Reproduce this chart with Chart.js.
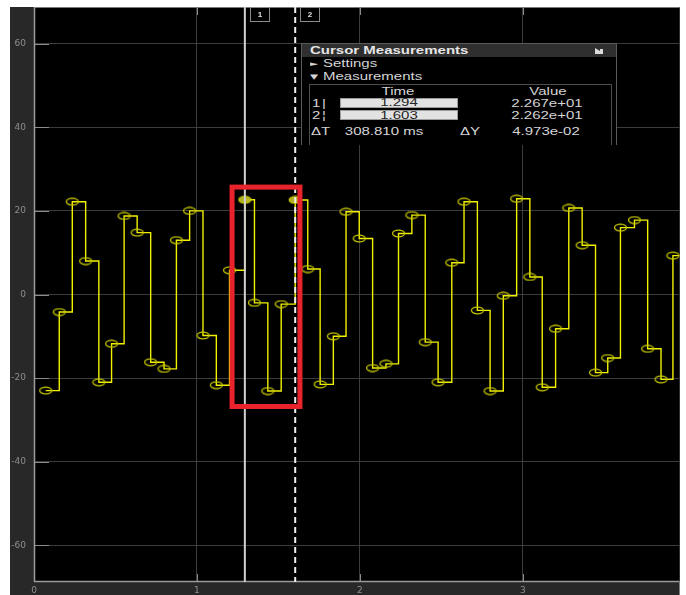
<!DOCTYPE html>
<html>
<head>
<meta charset="utf-8">
<title>Scope</title>
<script src="https://cdn.jsdelivr.net/npm/chart.js@4.4.1/dist/chart.umd.min.js"></script>
<style>
  html, body { margin: 0; padding: 0; background: #fff; }
  #wrap { position: relative; width: 686px; height: 595px; overflow: hidden; }
  #scope { display: block; }
  .panel {
    position: absolute; left: 301px; top: 43px; width: 316px; height: 102px;
    background: #000; border: 1px solid #5a5a5a; border-bottom: none; box-sizing: border-box;
    font-family: "Liberation Sans", Arial, sans-serif; font-size: 10px; color: #d4d4d4;
    overflow: hidden;
  }
  .bar { position: absolute; left: 0; top: 0; width: 100%; height: 13px; background: #2f2f2f; }
  .l, .c { position: absolute; white-space: nowrap; line-height: 12px; }
  .l { transform: scaleX(1.5); transform-origin: 0 50%; }
  .c { width: 120px; text-align: center; transform: scaleX(1.5); transform-origin: 50% 50%; }
  .b { font-weight: bold; color: #e6e6e6; }
  .box { position: absolute; left: 7px; top: 40px; width: 303px; height: 70px;
         border: 1px solid #4e4e4e; border-bottom: none; box-sizing: border-box; }
  .field { position: absolute; left: 38px; width: 118px; height: 10px;
           background: #e2e2e2; border: 1px solid #9c9c9c; box-sizing: border-box; }
  .tri { font-family: "DejaVu Sans", sans-serif; font-size: 7px; }
</style>
</head>
<body>
<div id="wrap">
  <canvas id="scope" width="686" height="595"></canvas>
  <div class="panel" id="panel">
    <div class="bar"></div>
    <div class="l b" style="left:8px; top:0.5px;">Cursor Measurements</div>
    <svg style="position:absolute; left:293px; top:4px;" width="9" height="6" viewBox="0 0 9 6">
      <path d="M0 0 L5 3 L5 1 L8 1 L8 6 L0 6 Z" fill="#dcdcdc"/>
    </svg>
    <div class="l tri" style="left:8px; top:13.5px;">&#9658;</div>
    <div class="l" style="left:21px; top:13.5px;">Settings</div>
    <div class="l tri" style="left:8px; top:27px;">&#9660;</div>
    <div class="l" style="left:21px; top:27px;">Measurements</div>
    <div class="box"></div>
    <div class="c" style="left:36px; top:41.5px;">Time</div>
    <div class="c" style="left:186px; top:41.5px;">Value</div>
    <div id="rows"></div>
  </div>
</div>
<script>
// Sampled signal (held between samples, zero-order hold)
const sampleTimes = [
  0.072, 0.155, 0.235, 0.317, 0.398, 0.476, 0.553, 0.633, 0.716, 0.798,
  0.874, 0.955, 1.037, 1.119, 1.200, 1.294, 1.353, 1.435, 1.517, 1.603,
  1.680, 1.756, 1.837, 1.915, 1.996, 2.078, 2.160, 2.237, 2.319, 2.401,
  2.480, 2.564, 2.639, 2.721, 2.799, 2.880, 2.962, 3.043, 3.119, 3.201,
  3.282, 3.364, 3.446, 3.521, 3.599, 3.685, 3.766, 3.848, 3.921
];
const sampleValues = [
  -23.0, -4.2, 22.2, 8.0, -21.0, -11.8, 18.8, 14.8, -16.2, -17.8,
  13.0, 20.0, -9.8, -21.7, 5.8, 22.67, -2.0, -23.1, -2.3, 22.62,
  6.1, -21.5, -10.0, 19.8, 13.4, -17.6, -16.6, 14.6, 19.0, -11.4,
  -21.0, 7.6, 22.2, -3.8, -23.1, -0.3, 22.9, 4.2, -22.2, -8.2,
  20.7, 11.8, -18.7, -15.2, 16.0, 17.8, -13.0, -20.3, 9.3
];
const stopTime = 3.962;

// Axes
const timeRange = [0, 3.962];
const valueRange = [-68.8, 68.8];
const timeTicks = [0, 1, 2, 3];
const valueTicks = [-60, -40, -20, 0, 20, 40, 60];

// Cursors and their readouts
const cursorTimes = [1.294, 1.603];
const cursorValues = [22.67, 22.62];
const cursorDeltaMs = 308.810;
const cursorDeltaValue = 4.973e-2;

// Highlighted window (time span, value span)
const highlightTimes = [1.2155, 1.632];
const highlightValues = [-26.8, 25.7];

function sci(v) {
  return v.toExponential(3).replace(/e([+-])(\d)$/, 'e$10$2');
}

// Readout rows of the measurements panel
(function buildRows() {
  const rows = document.getElementById('rows');
  const marks = ['|', '\u00A6'];
  const rowTops = [53.5, 65.5];
  const fieldTops = [53.5, 66];
  let html = '';
  cursorTimes.forEach((t, i) => {
    html += '<div class="l" style="left:9.5px; top:' + rowTops[i] + 'px;">' + (i + 1) + '</div>';
    html += '<div class="l" style="left:20px; top:' + rowTops[i] + 'px;">' + marks[i] + '</div>';
    html += '<div class="field" style="top:' + fieldTops[i] + 'px;"></div>';
    html += '<div class="c" style="left:37px; top:' + (fieldTops[i] - 0.5) + 'px;"><span style="color:#262626">' + t.toFixed(3) + '</span></div>';
    html += '<div class="c" style="left:184.5px; top:' + rowTops[i] + 'px;">' + sci(cursorValues[i]) + '</div>';
  });
  html += '<div class="l" style="left:9px; top:81.5px;">\u0394T</div>';
  html += '<div class="c" style="left:22px; top:81.5px;">' + cursorDeltaMs.toFixed(3) + ' ms</div>';
  html += '<div class="l" style="left:158px; top:81.5px;">\u0394Y</div>';
  html += '<div class="c" style="left:184px; top:81.5px;">' + sci(cursorDeltaValue) + '</div>';
  rows.innerHTML = html;
})();

function ellipseMarker(fill) {
  const c = document.createElement('canvas');
  c.width = 15; c.height = 9;
  const g = c.getContext('2d');
  g.beginPath();
  g.ellipse(7.5, 4.5, 6, 3.3, 0, 0, Math.PI * 2);
  if (fill) { g.fillStyle = fill; g.fill(); }
  g.strokeStyle = '#c8c800';
  g.lineWidth = 1.3;
  g.stroke();
  return c;
}
const hollowMarker = ellipseMarker(null);
const cursorMarker = ellipseMarker('rgba(185,185,40,0.95)');

const points = sampleTimes.map((t, i) => ({ x: t, y: sampleValues[i] }));
points.push({ x: stopTime, y: sampleValues[sampleValues.length - 1] });
const holdIndex = points.length - 1;
const cursorIndices = cursorTimes.map(t => sampleTimes.indexOf(t));

function noEdgePadding(s) {
  s.paddingTop = 0; s.paddingBottom = 0; s.paddingLeft = 0; s.paddingRight = 0;
}

const scopeFrame = {
  id: 'scopeFrame',
  beforeDraw(chart) {
    const { ctx, chartArea: a, width, height } = chart;
    const pad = chart.options.layout.padding;
    ctx.save();
    ctx.fillStyle = '#ffffff';
    ctx.fillRect(0, 0, width, height);
    ctx.fillStyle = '#282828';
    ctx.fillRect(pad.left, pad.top, a.right - pad.left, height - pad.top);
    ctx.fillStyle = '#000000';
    ctx.fillRect(a.left, a.top, a.right - a.left, a.bottom - a.top);
    ctx.restore();
  },
  beforeDatasetsDraw(chart) {
    const { ctx, chartArea: a, scales: { x, y } } = chart;
    ctx.save();
    ctx.strokeStyle = '#8c8c8c';
    ctx.lineWidth = 1;
    valueTicks.forEach(v => {
      const py = Math.round(y.getPixelForValue(v)) + 0.5;
      ctx.beginPath(); ctx.moveTo(a.left, py); ctx.lineTo(a.left + 15, py); ctx.stroke();
    });
    timeTicks.forEach(v => {
      const px = Math.round(x.getPixelForValue(v)) + 0.5;
      ctx.beginPath(); ctx.moveTo(px, a.bottom); ctx.lineTo(px, a.bottom - 8); ctx.stroke();
      ctx.beginPath(); ctx.moveTo(px, a.top); ctx.lineTo(px, a.top + 8); ctx.stroke();
    });
    ctx.strokeStyle = '#7a7a7a';
    ctx.beginPath(); ctx.moveTo(a.left, a.top + 0.5); ctx.lineTo(a.right, a.top + 0.5); ctx.stroke();
    ctx.strokeStyle = '#9c9c9c';
    ctx.lineWidth = 1.5;
    ctx.beginPath(); ctx.moveTo(a.left, a.bottom - 0.5); ctx.lineTo(a.right, a.bottom - 0.5); ctx.stroke();
    ctx.beginPath(); ctx.moveTo(a.left + 0.5, a.top); ctx.lineTo(a.left + 0.5, a.bottom); ctx.stroke();
    ctx.restore();
  },
  afterDatasetsDraw(chart) {
    const { ctx, chartArea: a, scales: { x, y } } = chart;
    ctx.save();
    // cursors
    cursorTimes.forEach((t, i) => {
      const px = x.getPixelForValue(t);
      ctx.beginPath();
      ctx.lineWidth = 2;
      if (i === 0) { ctx.strokeStyle = '#d0d0d0'; ctx.setLineDash([]); }
      else { ctx.strokeStyle = '#eeeeee'; ctx.setLineDash([6, 4]); }
      ctx.moveTo(px, a.top); ctx.lineTo(px, a.bottom); ctx.stroke();
      ctx.setLineDash([]);
      const bx = Math.round(px) + 5.5, by = a.top + 0.5;
      ctx.fillStyle = '#000';
      ctx.fillRect(bx, by, 19, 14);
      ctx.strokeStyle = '#8a8a8a'; ctx.lineWidth = 1;
      ctx.strokeRect(bx, by, 19, 14);
      ctx.fillStyle = '#e0e0e0';
      ctx.font = 'bold 8px "Liberation Sans", Arial, sans-serif';
      ctx.textAlign = 'center'; ctx.textBaseline = 'middle';
      ctx.fillText(String(i + 1), bx + 9.5, by + 7.5);
    });
    // highlighted window
    const x0 = x.getPixelForValue(highlightTimes[0]);
    const x1 = x.getPixelForValue(highlightTimes[1]);
    const y0 = y.getPixelForValue(highlightValues[1]);
    const y1 = y.getPixelForValue(highlightValues[0]);
    ctx.strokeStyle = '#e8232b';
    ctx.lineWidth = 5;
    ctx.strokeRect(x0, y0, x1 - x0, y1 - y0);
    ctx.restore();
  },
  afterDraw(chart) {
    const { ctx, height } = chart;
    const pad = chart.options.layout.padding;
    ctx.save();
    ctx.fillStyle = '#ffffff';
    ctx.fillRect(0, 0, pad.left, height);
    ctx.restore();
  }
};

const tickFont = { family: '"DejaVu Sans", sans-serif', size: 9 };

new Chart(document.getElementById('scope'), {
  type: 'line',
  data: {
    datasets: [{
      data: points,
      stepped: true,
      borderColor: '#f2f200',
      borderWidth: 1.4,
      fill: false,
      pointStyle: ctx => cursorIndices.includes(ctx.dataIndex) ? cursorMarker : hollowMarker,
      pointRadius: ctx => ctx.dataIndex === holdIndex ? 0 : 5,
      pointHoverRadius: 0
    }]
  },
  options: {
    responsive: false,
    devicePixelRatio: 1,
    animation: false,
    events: [],
    layout: { padding: { left: 10, top: 7, right: 5, bottom: 0 } },
    plugins: { legend: { display: false }, tooltip: { enabled: false } },
    scales: {
      x: {
        type: 'linear',
        min: timeRange[0], max: timeRange[1],
        afterFit: s => { s.height = 13; noEdgePadding(s); },
        afterBuildTicks: s => { s.ticks = timeTicks.map(v => ({ value: v })); },
        grid: { color: '#3c3c3c', lineWidth: 1, drawTicks: false },
        border: { display: false },
        ticks: { color: '#8e8e8e', font: tickFont, padding: 3, maxRotation: 0, autoSkip: false,
                 callback: v => String(v) }
      },
      y: {
        type: 'linear',
        min: valueRange[0], max: valueRange[1],
        afterFit: s => { s.width = 24; noEdgePadding(s); },
        afterBuildTicks: s => { s.ticks = valueTicks.map(v => ({ value: v })); },
        grid: { color: '#3c3c3c', lineWidth: 1, drawTicks: false },
        border: { display: false },
        ticks: { color: '#8e8e8e', font: tickFont, padding: 8, autoSkip: false,
                 callback: v => String(v) }
      }
    }
  },
  plugins: [scopeFrame]
});
</script>
</body>
</html>
